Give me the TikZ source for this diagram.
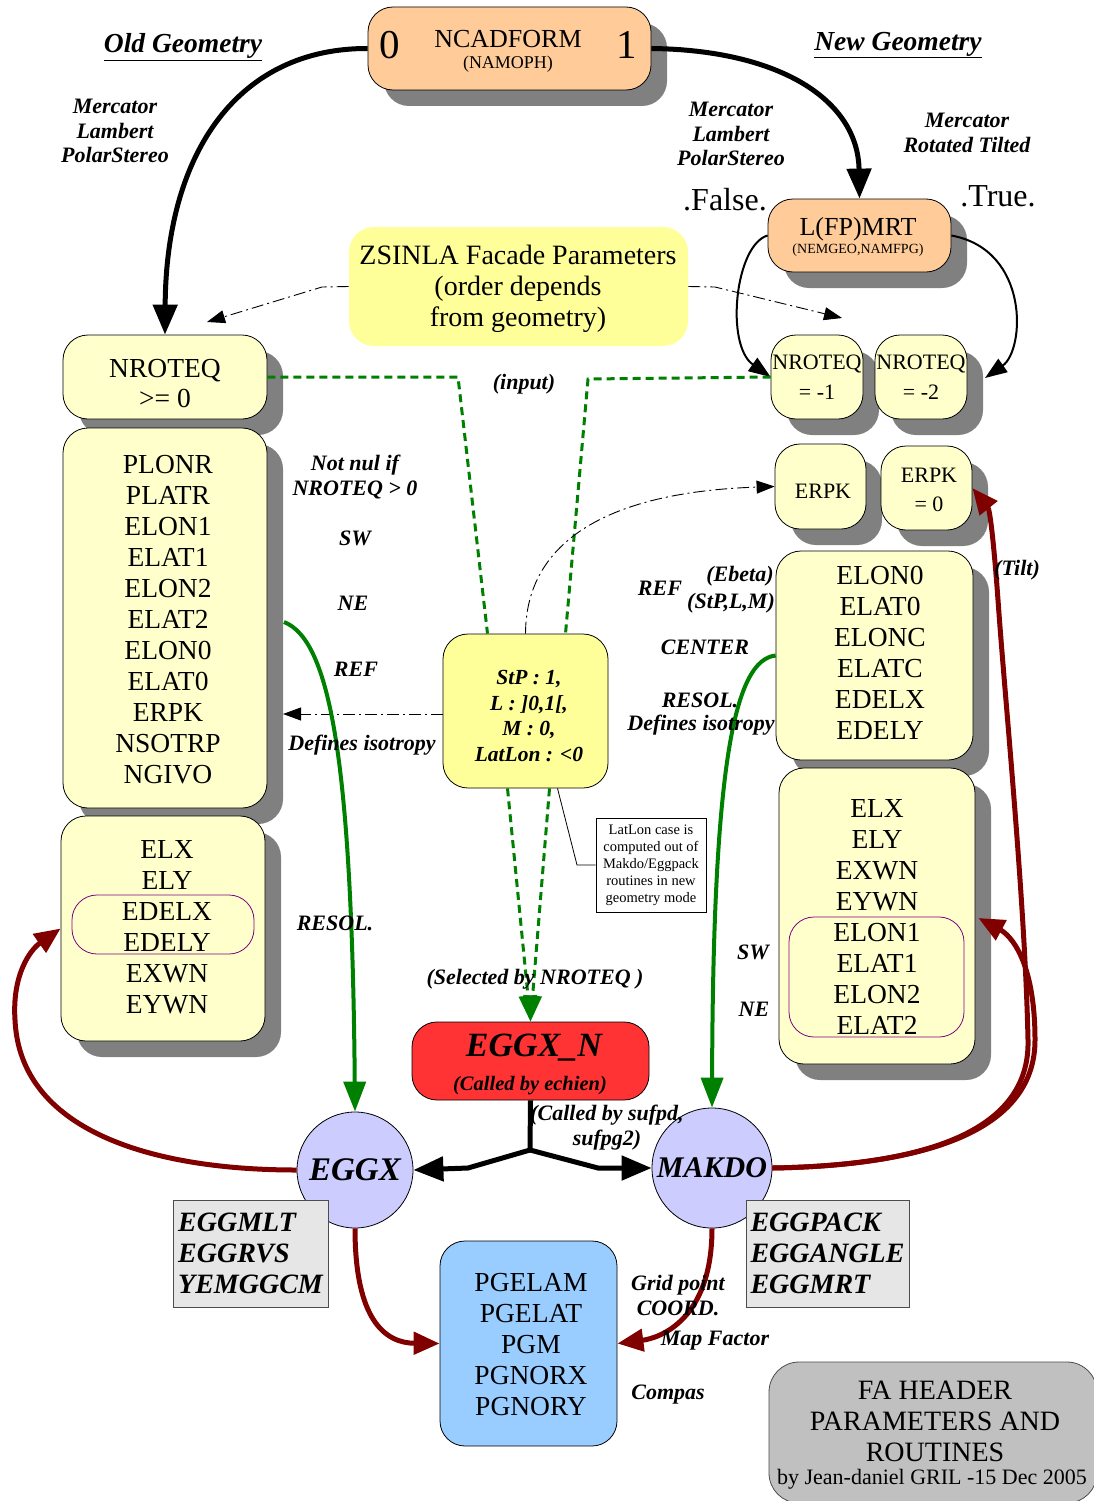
\documentclass[tikz,border=0pt]{standalone}
\usepackage{fontspec}
\setmainfont{Liberation Serif}
\usetikzlibrary{arrows.meta,shadows,calc}
\definecolor{orangebox}{HTML}{FFCC99}
\definecolor{lyel}{HTML}{FFFFCC}
\definecolor{yel}{HTML}{FFFF99}
\definecolor{redbox}{HTML}{FF3333}
\definecolor{lav}{HTML}{CCCCFF}
\definecolor{pgblue}{HTML}{99CCFF}
\definecolor{lgray}{HTML}{E6E6E6}
\definecolor{fagray}{HTML}{C0C0C0}
\definecolor{shadowgray}{HTML}{808080}
\definecolor{dred}{HTML}{800000}
\definecolor{dgreen}{HTML}{008000}
\definecolor{dpurple}{HTML}{800080}
\newcommand\fsz[2]{\fontsize{#1}{#2}\selectfont}
\tikzset{
 box/.style={draw=black, line width=0.8pt, rounded corners=25pt, inner sep=0pt, align=center, font=\fsz{27.5}{31}},
 shad/.style={drop shadow={shadow xshift=16pt,shadow yshift=-16pt,fill=shadowgray,opacity=1}},
 lbl/.style={font=\fsz{22}{25}\bfseries\itshape, align=center, inner sep=0pt},
 txt/.style={inner sep=0pt, align=center},
 blk/.style={line width=5pt, draw=black},
 blkarr/.style={line width=5pt, draw=black, -{Triangle[length=30pt,width=24pt]}},
 thinarr/.style={line width=2pt, draw=black, -{Triangle[length=22pt,width=16pt]}},
 dd/.style={line width=0.9pt, dash pattern=on 12pt off 4pt on 2pt off 4pt, -{Triangle[length=18pt,width=13pt]}},
 gdash/.style={line width=3pt, draw=dgreen, dash pattern=on 8pt off 5pt},
 gsolid/.style={line width=4pt, draw=dgreen, -{Triangle[length=30pt,width=22pt]}},
 rarr/.style={line width=5pt, draw=dred, -{Triangle[length=26pt,width=22pt]}},
 purp/.style={draw=dpurple, line width=0.8pt, rounded corners=25pt, inner sep=0pt},
}
\begin{document}
\begin{tikzpicture}[x=1pt,y=-1pt]
\fill[white] (0,0) rectangle (1093,1501);
\useasboundingbox (0,0) rectangle (1093,1501);

% ---------- boxes ----------
\node[box, shad, fill=orangebox, minimum width=283pt, minimum height=83pt] (ncad) at (509.5,48.5) {};
\node[txt, font=\fsz{41}{41}] (ncad0) at (390,45) {0};
\node[txt, font=\fsz{26}{28}] (ncadT) at (508,39) {NCADFORM};
\node[txt, font=\fsz{18}{20}] (ncadS) at (508,64) {(NAMOPH)};
\node[txt, font=\fsz{41}{41}] (ncad1) at (627,45) {1};

\node[box, shad, fill=orangebox, minimum width=183pt, minimum height=73pt] (lfp) at (859.5,235.5) {};
\node[txt, font=\fsz{26}{28}] (lfpT) at (858,229) {L(FP)MRT};
\node[txt, font=\fsz{14}{16}] (lfpS) at (858,250) {(NEMGEO,NAMFPG)};

\node[box, draw=none, fill=yel, minimum width=339pt, minimum height=119pt] (zs) at (518.5,286.5) {};
\node[txt, font=\fsz{28}{31}] (zsT) at (518,289) {ZSINLA Facade Parameters\\(order depends\\from geometry)};

\node[box, shad, fill=lyel, minimum width=204pt, minimum height=84pt] (nr0) at (165,377) {};
\node[txt, font=\fsz{27.5}{30}] (nr0T) at (165,384) {NROTEQ\\{>}= 0};
\node[box, shad, fill=lyel, minimum width=204pt, minimum height=380pt] (bigL) at (165,618) {};
\node[txt, font=\fsz{27.5}{31}] (bigLT) at (168,620) {PLONR\\PLATR\\ELON1\\ELAT1\\ELON2\\ELAT2\\ELON0\\ELAT0\\ERPK\\NSOTRP\\NGIVO};
\node[box, shad, fill=lyel, minimum width=204pt, minimum height=225pt] (lowL) at (163,928.5) {};
\node[txt, font=\fsz{27.5}{31}] (lowLT) at (167,927) {ELX\\ELY\\EDELX\\EDELY\\EXWN\\EYWN};
\node[purp, minimum width=182pt, minimum height=59pt] (purL) at (163,924.5) {};

\node[box, shad, fill=lyel, minimum width=92pt, minimum height=84pt, font=\fsz{22}{30}] (nrm1) at (817,377) {NROTEQ\\= -1};
\node[box, shad, fill=lyel, minimum width=92pt, minimum height=84pt, font=\fsz{22}{30}] (nrm2) at (921,377) {NROTEQ\\= -2};
\node[box, shad, fill=lyel, minimum width=91pt, minimum height=85pt, font=\fsz{22}{29}] (erpk) at (820.5,486.5) {};
\node[txt, font=\fsz{22}{29}] (erpkT) at (823,491) {ERPK};
\node[box, shad, fill=lyel, minimum width=91pt, minimum height=84pt, font=\fsz{22}{29}] (erpk0) at (926.5,488) {};
\node[txt, font=\fsz{22}{29}] (erpk0T) at (929,490) {ERPK\\= 0};
\node[box, shad, fill=lyel, minimum width=197pt, minimum height=209pt] (rmid) at (874.5,655.5) {};
\node[txt, font=\fsz{27.5}{31}] (rmidT) at (880,653) {ELON0\\ELAT0\\ELONC\\ELATC\\EDELX\\EDELY};
\node[box, shad, fill=lyel, minimum width=196pt, minimum height=296pt] (rlow) at (877,916) {};
\node[txt, font=\fsz{27.5}{31}] (rlowT) at (877,917) {ELX\\ELY\\EXWN\\EYWN\\ELON1\\ELAT1\\ELON2\\ELAT2};
\node[purp, minimum width=175pt, minimum height=120pt] (purR) at (876.5,977) {};

\node[box, fill=yel, minimum width=165pt, minimum height=154pt] (cbox) at (525.5,711) {};
\node[txt, font=\fsz{21.5}{25.5}\bfseries\itshape] (cboxT) at (529,716) {StP : 1,\\L : ]0,1[,\\M : 0,\\LatLon : <0};

\node[draw=black, line width=0.8pt, fill=white, inner sep=0pt, minimum width=110pt, minimum height=94pt, align=center, font=\fsz{14.5}{17}] (note) at (651,865) {LatLon case is\\computed out of\\Makdo/Eggpack\\routines in new\\geometry mode};

\node[box, fill=redbox, minimum width=237pt, minimum height=78pt] (eggxn) at (530.5,1061) {};
\node[txt, font=\fsz{34}{36}\bfseries\itshape] (eggxnT) at (534,1048) {EGGX\_N};
\node[txt, font=\fsz{20.5}{22}\bfseries\itshape] (eggxnC) at (530,1086) {(Called by echien)};

\node[circle, draw=black, line width=0.8pt, fill=lav, minimum size=116pt, inner sep=0pt, font=\fsz{33}{35}\bfseries\itshape] (eggx) at (355,1170) {EGGX};
\node[circle, draw=black, line width=0.8pt, fill=lav, minimum size=120pt, inner sep=0pt, font=\fsz{30}{32}\bfseries\itshape] (makdo) at (712,1168) {MAKDO};

\node[draw=black!70, line width=1pt, fill=lgray, inner sep=0pt, minimum width=155pt, minimum height=107pt, align=left, font=\fsz{28}{31}\bfseries\itshape] (gL) at (250.5,1253.5) {EGGMLT\\EGGRVS\\YEMGGCM};
\node[draw=black!70, line width=1pt, fill=lgray, inner sep=0pt, minimum width=163pt, minimum height=107pt, align=left, font=\fsz{28}{31}\bfseries\itshape] (gR) at (827.5,1253.5) {EGGPACK\\EGGANGLE\\EGGMRT};

\node[box, fill=pgblue, minimum width=177pt, minimum height=205pt] (pg) at (528.5,1343.5) {};
\node[txt, font=\fsz{27.5}{31}] (pgT) at (531,1345) {PGELAM\\PGELAT\\PGM\\PGNORX\\PGNORY};

\node[box, draw=black!70, fill=fagray, rounded corners=30pt, minimum width=328pt, minimum height=141pt] (fa) at (933,1432.5) {};
\node[txt, font=\fsz{28}{31}] (faT) at (935,1421) {FA HEADER\\PARAMETERS AND\\ROUTINES};
\node[txt, font=\fsz{22}{24}] (faB) at (932,1479) {by Jean-daniel GRIL -15 Dec 2005};

% ---------- coordinates ----------
\coordinate (zsL) at (322,287);
\coordinate (zsLt) at (207,322);
\coordinate (zsR) at (715,287);
\coordinate (zsRt) at (842,318);
\coordinate (gnL) at (458,377);
\coordinate (gnR) at (588,379);
\coordinate (nrm2sh) at (985,378);
\coordinate (bigLsh) at (283,714);
\coordinate (gLs) at (284,622);
\coordinate (fork) at (530,1150);
\coordinate (forkL) at (468,1168);
\coordinate (forkR) at (598,1168);
\coordinate (notec) at (577,865);
\coordinate (rloop) at (1035,1040);

% ---------- connectors ----------
\draw[blkarr] (ncad.west) .. controls (240,48) and (166,150) .. (nr0.north);
\draw[blkarr] (ncad.east) .. controls (780,50) and (858,100) .. (lfp.north);
\draw[thinarr] (lfp.west) .. controls (735,245) and (725,345) .. (nrm1.west);
\draw[thinarr] (lfp.east) .. controls (1030,250) and (1025,350) .. (nrm2sh);

\draw[dd] (zs.west) -- (zsL) -- (zsLt);
\draw[dd] (zs.east) -- (zsR) -- (zsRt);

\draw[gdash] (nr0.east) -- (gnL) -- ($(cbox.north)+(-38,0)$);
\draw[gdash] (nrm1.west) -- (gnR) -- ($(cbox.north)+(40,0)$);
\draw[gdash,-{Triangle[length=26pt,width=18pt]}] ($(cbox.south)+(-18,0)$) -- (eggxn.north);
\draw[gdash,-{Triangle[length=26pt,width=18pt]}] ($(cbox.south)+(24,0)$) -- (eggxn.north);

\draw[dd] (cbox.north) .. controls (526,540) and (610,492) .. (erpk.west);
\draw[dd] ($(cbox.west)+(0,3)$) -- (bigLsh);
\draw[line width=0.8pt] ($(cbox.south)+(32,0)$) -- (notec) -- (note.west);

\draw[gsolid] (gLs) .. controls (330,640) and (352,760) .. (eggx.north);
\draw[gsolid] (rmid.west) .. controls (735,660) and (713,760) .. (makdo.north);

\draw[blk] (eggxn.south) -- (fork);
\draw[blkarr] (fork) -- (forkL) -- (eggx.east);
\draw[blkarr] (fork) -- (forkR) -- (makdo.west);

\draw[rarr] (eggx.west) .. controls (150,1170) and (20,1130) .. (15,1020) .. controls (12,975) and (30,950) .. (lowL.west);
\draw[rarr] (eggx.south) .. controls (355,1320) and (385,1343) .. (pg.west);
\draw[rarr] (makdo.south) .. controls (712,1320) and (660,1338) .. (pg.east);
\draw[rarr] (makdo.east) .. controls (950,1165) and (1035,1120) .. (rloop) .. controls (1035,960) and (1010,935) .. ($(rlow.east)+(3,2)$);
\draw[rarr] (makdo.east) .. controls (950,1165) and (1030,1120) .. (1028,1040) .. controls (1025,900) and (1005,700) .. (998,600) .. controls (994,545) and (990,510) .. (erpk0.east);

% ---------- labels ----------
\node[lbl, font=\fsz{27.5}{30}\bfseries\itshape] (oldg) at (183,47) {\underline{Old Geometry}};
\node[lbl, font=\fsz{27.5}{30}\bfseries\itshape] (newg) at (898,45) {\underline{New Geometry}};
\node[lbl, font=\fsz{22}{24.5}\bfseries\itshape] (mlpL) at (115,131) {Mercator\\Lambert\\PolarStereo};
\node[lbl, font=\fsz{22}{24.5}\bfseries\itshape] (mlpR) at (731,134) {Mercator\\Lambert\\PolarStereo};
\node[lbl, font=\fsz{22}{24.5}\bfseries\itshape] (mrt) at (967,133) {Mercator\\Rotated Tilted};
\node[txt, font=\fsz{32}{34}] (false) at (725,200) {.False.};
\node[txt, font=\fsz{32}{34}] (true) at (998,196) {.True.};
\node[lbl] (input) at (524,384) {(input)};
\node[lbl] (notnul) at (355,477) {Not nul if\\NROTEQ > 0};
\node[lbl] (swL) at (355,538) {SW};
\node[lbl] (neL) at (353,603) {NE};
\node[lbl] (refL) at (356,669) {REF};
\node[lbl] (defL) at (362,745) {Defines isotropy};
\node[lbl] (resL) at (335,923) {RESOL.};
\node[lbl] (refR) at (660,588) {REF};
\node[lbl] (ebeta) at (740,576) {(Ebeta)};
\node[lbl] (stplm) at (731,603) {(StP,L,M)};
\node[lbl] (center) at (705,647) {CENTER};
\node[lbl] (resR) at (700,700) {RESOL.};
\node[lbl] (defR) at (701,725) {Defines isotropy};
\node[lbl] (tilt) at (1017,570) {(Tilt)};
\node[lbl] (swR) at (753,952) {SW};
\node[lbl] (neR) at (754,1009) {NE};
\node[lbl] (selby) at (535,979) {(Selected by NROTEQ )};
\node[lbl] (calls) at (607,1128) {(Called by sufpd,\\sufpg2)};
\node[lbl] (grid) at (678,1296) {Grid point\\COORD.};
\node[lbl] (mapf) at (715,1341) {Map Factor};
\node[lbl] (compas) at (668,1395) {Compas};
\end{tikzpicture}
\end{document}
